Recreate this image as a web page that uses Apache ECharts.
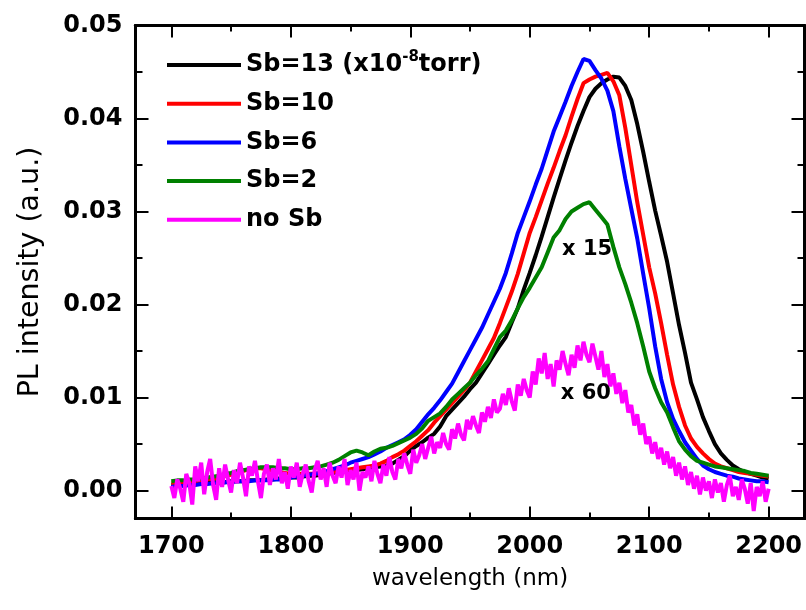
<!DOCTYPE html>
<html>
<head>
<meta charset="utf-8">
<script src="https://cdn.jsdelivr.net/npm/echarts@6/dist/echarts.min.js"></script>
<style>
    html, body { margin: 0; padding: 0; background: #fff; }
    #echarts-pl-graph { width: 806px; height: 610px; }
</style>
</head>
<body>
<div id="echarts-pl-graph"></div>
<script>
// PL spectra, values (wavelength in nm)
const SERIES_NAMES = ['Sb=13 (x10-8torr)', 'Sb=10', 'Sb=6', 'Sb=2', 'no Sb'];
const SERIES_COLORS = ['#000000', '#ff0000', '#0000ff', '#008000', '#ff00ff'];

const X_TICKS = [1700, 1800, 1900, 2000, 2100, 2200];
const X_MINOR_TICKS = [1750, 1850, 1950, 2050, 2150];
const Y_TICKS = [0, 0.01, 0.02, 0.03, 0.04, 0.05];
const Y_MINOR_TICKS = [0.005, 0.015, 0.025, 0.035, 0.045];

// sampled every 5 nm from 1700 to 2200
const sb13_values = [
    .0006, .0006, .0007, .0007, .0008, .0008, .0008, .0009, .0009, .0009,
    .0010, .0010, .0010, .0011, .0011, .0011, .0012, .0012, .0013, .0013,
    .0014, .0014, .0015, .0016, .0016, .0017, .0018, .0019, .0020, .0021,
    .0022, .0022, .0023, .0024, .0025, .0026, .0027, .0029, .0033, .0037,
    .0043, .0048, .0052, .0057, .0061, .0069, .0080, .0087, .0094, .0101,
    .0109, .0116, .0126, .0136, .0146, .0156, .0165, .0181, .0196, .0216,
    .0234, .0253, .0273, .0294, .0315, .0335, .0355, .0374, .0392, .0408,
    .0423, .0432, .0438, .0442, .0445, .0444, .0435, .0420, .0394, .0364,
    .0332, .0301, .0274, .0246, .0212, .0178, .0148, .0116, .0098, .0079,
    .0064, .0050, .0040, .0033, .0027, .0023, .0020, .0018, .0016, .0014,
    .0013
];
const sb10_values = [
    .0008, .0008, .0009, .0009, .0010, .0011, .0012, .0013, .0014, .0016,
    .0017, .0019, .0021, .0023, .0024, .0024, .0023, .0021, .0020, .0019,
    .0018, .0018, .0018, .0018, .0018, .0019, .0019, .0020, .0021, .0022,
    .0023, .0024, .0025, .0026, .0027, .0029, .0032, .0036, .0039, .0043,
    .0048, .0053, .0059, .0065, .0073, .0080, .0087, .0094, .0101, .0108,
    .0116, .0128, .0140, .0152, .0164, .0180, .0197, .0214, .0233, .0255,
    .0277, .0294, .0312, .0330, .0347, .0365, .0382, .0402, .0421, .0438,
    .0442, .0445, .0447, .0449, .0440, .0425, .0390, .0350, .0310, .0275,
    .0240, .0212, .0180, .0146, .0114, .0090, .0070, .0056, .0047, .0040,
    .0034, .0029, .0026, .0024, .0022, .0020, .0019, .0018, .0017, .0016,
    .0015
];
const sb6_values = [
    .0004, .0005, .0005, .0006, .0006, .0007, .0007, .0008, .0008, .0009,
    .0009, .0010, .0010, .0010, .0011, .0011, .0011, .0012, .0012, .0013,
    .0014, .0015, .0016, .0017, .0018, .0019, .0021, .0023, .0025, .0027,
    .0030, .0032, .0034, .0036, .0039, .0042, .0046, .0049, .0052, .0055,
    .0060, .0066, .0074, .0082, .0089, .0097, .0106, .0115, .0127, .0139,
    .0151, .0163, .0175, .0189, .0203, .0217, .0234, .0255, .0277, .0294,
    .0311, .0329, .0346, .0366, .0386, .0402, .0418, .0435, .0450, .0464,
    .0462, .0452, .0443, .0430, .0408, .0370, .0335, .0303, .0271, .0233,
    .0196, .0155, .0120, .0095, .0077, .0064, .0052, .0043, .0034, .0027,
    .0023, .0020, .0018, .0016, .0015, .0013, .0012, .0011, .0010, .0010,
    .0009
];
const sb2_values = [
    .0010, .0011, .0011, .0012, .0012, .0013, .0014, .0015, .0016, .0018,
    .0019, .0021, .0022, .0023, .0024, .0025, .0025, .0025, .0024, .0024,
    .0023, .0023, .0024, .0024, .0025, .0026, .0028, .0030, .0033, .0037,
    .0041, .0043, .0041, .0038, .0042, .0045, .0046, .0048, .0051, .0054,
    .0057, .0061, .0067, .0075, .0079, .0083, .0090, .0098, .0104, .0110,
    .0116, .0124, .0131, .0139, .0152, .0165, .0172, .0183, .0196, .0208,
    .0218, .0229, .0240, .0256, .0272, .0280, .0292, .0300, .0304, .0308,
    .0310, .0302, .0294, .0286, .0262, .0240, .0222, .0202, .0180, .0155,
    .0128, .0110, .0095, .0084, .0068, .0053, .0044, .0037, .0032, .0030,
    .0028, .0026, .0025, .0024, .0023, .0022, .0021, .0019, .0018, .0017,
    .0016
];
// no Sb is noisy, sampled every 2.5 nm from 1700 to 2200
const no_sb_values = [
    .0005, -.0008, .0012, .0002, -.0012, .0018, .0008, -.0015, .0026, .0010,
    .0030, -.0004, .0020, .0034, .0006, -.0010, .0024, .0004, .0028, .0012,
    -.0002, .0022, .0008, .0030, .0014, -.0006, .0026, .0016, .0032, .0010,
    -.0008, .0018, .0028, .0006, .0024, .0012, .0034, .0008, .0020, .0002,
    .0026, .0014, .0030, .0004, .0018, .0028, .0010, -.0002, .0022, .0032,
    .0012, .0024, .0004, .0030, .0016, .0008, .0026, .0014, .0034, .0006,
    .0022, .0012, .0030, .0000, .0020, .0014, .0026, .0010, .0032, .0018,
    .0008, .0028, .0016, .0036, .0020, .0012, .0034, .0024, .0040, .0028,
    .0018, .0044, .0030, .0038, .0050, .0034, .0046, .0058, .0040, .0052,
    .0046, .0062, .0050, .0044, .0066, .0056, .0072, .0060, .0054, .0076,
    .0066, .0080, .0070, .0062, .0084, .0074, .0090, .0078, .0098, .0084,
    .0088, .0104, .0092, .0110, .0096, .0086, .0114, .0102, .0120, .0108,
    .0100, .0128, .0114, .0142, .0126, .0148, .0120, .0136, .0112, .0140,
    .0130, .0150, .0136, .0124, .0146, .0132, .0156, .0140, .0160, .0146,
    .0138, .0158, .0144, .0130, .0150, .0122, .0136, .0112, .0126, .0104,
    .0116, .0094, .0108, .0084, .0092, .0070, .0082, .0060, .0072, .0050,
    .0058, .0040, .0052, .0034, .0046, .0028, .0042, .0024, .0036, .0016,
    .0030, .0012, .0026, .0006, .0020, .0002, .0016, -.0004, .0014, .0000,
    .0010, -.0008, .0012, -.0002, .0008, -.0012, .0006, .0016, -.0006, .0004,
    -.0010, .0012, .0002, -.0014, .0008, -.0022, .0004, -.0006, .0010, -.0012,
    .0002
];

// scale factors written on the plot, anchored in data coordinates
const note_x15_at = [2048, 0.0259];
const note_x60_at = [2047, 0.0104];

const TICK_FONT = 'DejaVu Sans';


function sample_grid(start, step, count) {
    let grid = [];
    for (let i = 0; i < count; i++) {
        grid.push(start + step * i);
    }
    return grid;
}


function to_pairs(values, step) {
    let wavelengths = sample_grid(1700, step, values.length);
    return values.map((v, i) => [wavelengths[i], v]);
}


function note_mark_point(text, coord) {
    return {
        silent: true,
        symbol: 'circle',
        symbolSize: 1,
        itemStyle: {color: 'rgba(0,0,0,0)'},
        label: {
            show: true,
            position: 'inside',
            formatter: text,
            color: '#000',
            fontFamily: TICK_FONT,
            fontWeight: 'bold',
            fontSize: 21
        },
        data: [{coord: coord}]
    };
}


function x_axis(position, ticks, tick_length, with_labels) {
    return {
        type: 'value',
        position: position,
        min: 1670,
        max: 2230,
        axisLine: {show: true, onZero: false, lineStyle: {color: '#000', width: 3}},
        axisTick: {show: true, inside: true, length: tick_length, customValues: ticks, lineStyle: {color: '#000', width: 2}},
        axisLabel: {
            show: with_labels, customValues: ticks, margin: 16, color: '#000',
            fontFamily: TICK_FONT, fontWeight: 'bold', fontSize: 24,
            formatter: v => String(Math.round(v))
        },
        splitLine: {show: false}
    };
}


function y_axis(position, ticks, tick_length, with_labels) {
    return {
        type: 'value',
        position: position,
        min: -0.003,
        max: 0.05,
        axisLine: {show: true, onZero: false, lineStyle: {color: '#000', width: 3}},
        axisTick: {show: true, inside: true, length: tick_length, customValues: ticks, lineStyle: {color: '#000', width: 2}},
        axisLabel: {
            show: with_labels, customValues: ticks, margin: 13, color: '#000',
            fontFamily: TICK_FONT, fontWeight: 'bold', fontSize: 24,
            formatter: v => v.toFixed(2)
        },
        splitLine: {show: false}
    };
}


let echarts_pl_graph = echarts.init(document.getElementById('echarts-pl-graph'), null, {renderer: 'canvas'});

let x_axes = [
    x_axis('bottom', X_TICKS, 12, true),
    x_axis('top', X_TICKS, 12, false),
    x_axis('bottom', X_MINOR_TICKS, 6, false),
    x_axis('top', X_MINOR_TICKS, 6, false)
];
x_axes[0].name = 'wavelength (nm)';
x_axes[0].nameLocation = 'middle';
x_axes[0].nameGap = 49;
x_axes[0].nameTextStyle = {color: '#000', fontFamily: 'DejaVu Sans', fontSize: 23};

let y_axes = [
    y_axis('left', Y_TICKS, 13, true),
    y_axis('right', Y_TICKS, 13, false),
    y_axis('left', Y_MINOR_TICKS, 7, false),
    y_axis('right', Y_MINOR_TICKS, 7, false)
];
y_axes[0].name = 'PL intensity (a.u.)';
y_axes[0].nameLocation = 'middle';
y_axes[0].nameRotate = 90;
y_axes[0].nameGap = 90;
y_axes[0].nameTextStyle = {color: '#000', fontFamily: 'DejaVu Sans', fontSize: 28.5};

let all_values = [sb13_values, sb10_values, sb6_values, sb2_values, no_sb_values];
let all_steps = [5, 5, 5, 5, 2.5];

let series_list = all_values.map((values, i) => ({
    name: SERIES_NAMES[i],
    type: 'line',
    xAxisIndex: 0,
    yAxisIndex: 0,
    showSymbol: false,
    symbol: 'none',
    smooth: false,
    lineStyle: {color: SERIES_COLORS[i], width: 4},
    itemStyle: {color: SERIES_COLORS[i]},
    emphasis: {disabled: true},
    data: to_pairs(values, all_steps[i])
}));
series_list[3].markPoint = note_mark_point('x 15', note_x15_at);
series_list[4].markPoint = note_mark_point('x 60', note_x60_at);

let echarts_options = {
    animation: false,
    backgroundColor: '#fff',
    grid: {
        left: 135.5,
        right: 1.5,
        top: 25.5,
        bottom: 91.5,
        containLabel: false,
        outerBoundsMode: 'none'
    },
    legend: {
        orient: 'vertical',
        left: 167,
        top: 50,
        padding: 0,
        icon: 'rect',
        itemWidth: 74,
        itemHeight: 4,
        itemGap: 8.7,
        selectedMode: false,
        data: SERIES_NAMES,
        formatter: function (name) {
            if (name === SERIES_NAMES[0]) {
                return '{t|Sb=13 (x10}{s|-8}{t|torr)}';
            }
            return '{t|' + name + '}';
        },
        textStyle: {
            color: '#000',
            fontFamily: TICK_FONT,
            fontWeight: 'bold',
            fontSize: 24,
            lineHeight: 30,
            rich: {
                t: {color: '#000', fontFamily: TICK_FONT, fontWeight: 'bold', fontSize: 24, lineHeight: 30},
                s: {color: '#000', fontFamily: TICK_FONT, fontWeight: 'bold', fontSize: 15, lineHeight: 15, verticalAlign: 'top'}
            }
        }
    },
    xAxis: x_axes,
    yAxis: y_axes,
    series: series_list
};

echarts_pl_graph.setOption(echarts_options);
</script>
</body>
</html>
